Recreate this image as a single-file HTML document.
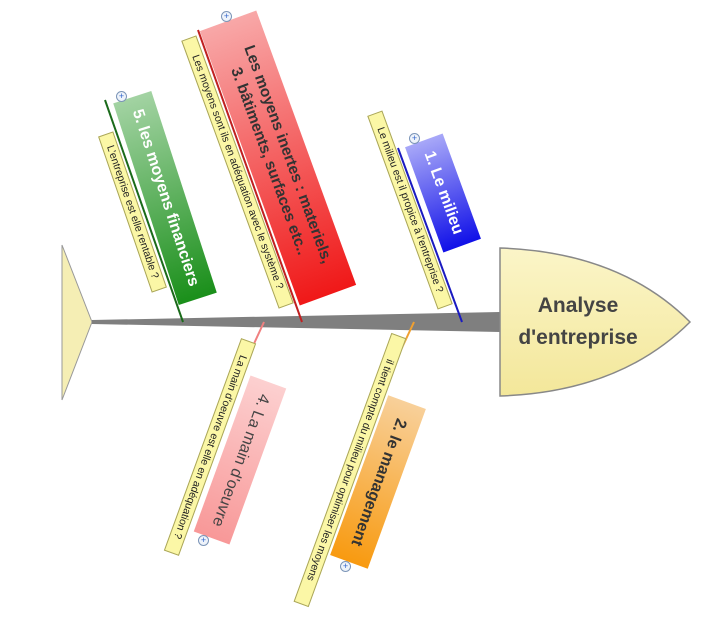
<!DOCTYPE html>
<html><head><meta charset="utf-8"><style>
body{margin:0;width:706px;height:640px;background:#fff;position:relative;overflow:hidden;font-family:"Liberation Sans","DejaVu Sans",sans-serif}
.r{position:absolute;display:flex;align-items:center;justify-content:center;text-align:center;box-sizing:border-box;white-space:nowrap}
.n{background:#fbf7a6;border:1px solid #a9a55a;font-size:10.5px;color:#222}
.p{position:absolute;width:9px;height:9px;border:1px solid #7c95b8;border-radius:50%;background:#eef3fa;font-size:9px;line-height:9px;text-align:center;color:#36c}
</style></head><body>
<svg width="706" height="640" style="position:absolute;left:0;top:0">
<defs><linearGradient id="hg" x1="0" y1="0" x2="0" y2="1"><stop offset="0" stop-color="#fbf5c8"/><stop offset="1" stop-color="#f3e79a"/></linearGradient></defs>
<polygon points="62,245 92,322 62,400" fill="#f5eeb4" stroke="#999" stroke-width="1"/>
<polygon points="92,320 500,312 500,332 92,324" fill="#7f7f7f"/>
<path d="M500,248 Q620,252 690,322 Q620,392 500,396 Z" fill="url(#hg)" stroke="#888" stroke-width="1.5"/>
<text x="578" y="312" font-size="21" font-weight="bold" fill="#444" text-anchor="middle" font-family="Liberation Sans">Analyse</text>
<text x="578" y="344" font-size="21" font-weight="bold" fill="#444" text-anchor="middle" font-family="Liberation Sans">d'entreprise</text>
<line x1="105" y1="100" x2="183" y2="322" stroke="#1a6a1a" stroke-width="2"/>
<line x1="198" y1="30" x2="302" y2="322" stroke="#c02020" stroke-width="2"/>
<line x1="398" y1="148" x2="462" y2="322" stroke="#1a1ac0" stroke-width="2"/>
<line x1="264" y1="322" x2="252" y2="348" stroke="#f08080" stroke-width="2"/>
<line x1="414" y1="322" x2="400" y2="352" stroke="#f0a030" stroke-width="2"/>
</svg>

<div class="r" style="left:59px;top:178px;width:212px;height:40px;transform:rotate(72deg);background:linear-gradient(to right,#a3d3a3,#1a8f1a);color:#fff;font-weight:bold;font-size:16px">5. les moyens financiers</div>
<div class="r n" style="left:50px;top:204px;width:165px;height:16px;transform:rotate(71deg)">L'entreprise est elle rentable ?</div>

<div class="r" style="left:132px;top:128px;width:292px;height:60px;transform:rotate(70deg);background:linear-gradient(to right,#f8a8a8,#f01818);color:#333;font-weight:bold;font-size:15.5px;line-height:20px;flex-direction:column">
<div>Les moyens inertes : materiels,</div><div>3. bâtiments, surfaces etc..</div></div>
<div class="r n" style="left:95px;top:164px;width:285px;height:16px;transform:rotate(70deg)">Les moyens sont ils en adéquation avec le système ?</div>

<div class="r" style="left:387px;top:173px;width:112px;height:40px;transform:rotate(70deg);background:linear-gradient(to right,#a8a8f8,#1010e8);color:#fff;font-weight:bold;font-size:16px">1. Le milieu</div>
<div class="r n" style="left:307px;top:202px;width:206px;height:16px;transform:rotate(70deg)">Le milieu est il propice à l'entreprise ?</div>

<div class="r" style="left:157px;top:441px;width:166px;height:38px;transform:rotate(110deg);background:linear-gradient(to right,#fcd0d0,#f89898);color:#444;font-size:16px">4. La main d'oeuvre</div>
<div class="r n" style="left:97px;top:439px;width:226px;height:16px;transform:rotate(110deg)">La main d'oeuvre est elle en adéquation ?</div>

<div class="r" style="left:293px;top:462px;width:170px;height:40px;transform:rotate(110deg);background:linear-gradient(to right,#f8d09a,#f89a10);color:#333;font-weight:bold;font-size:16px">2. le management</div>
<div class="r n" style="left:207px;top:462px;width:286px;height:16px;transform:rotate(110deg)">il tient compte du milieu pour optimiser les moyens</div>

<div class="p" style="left:221px;top:11px">+</div>
<div class="p" style="left:116px;top:91px">+</div>
<div class="p" style="left:409px;top:133px">+</div>
<div class="p" style="left:198px;top:535px">+</div>
<div class="p" style="left:340px;top:561px">+</div>
</body></html>
